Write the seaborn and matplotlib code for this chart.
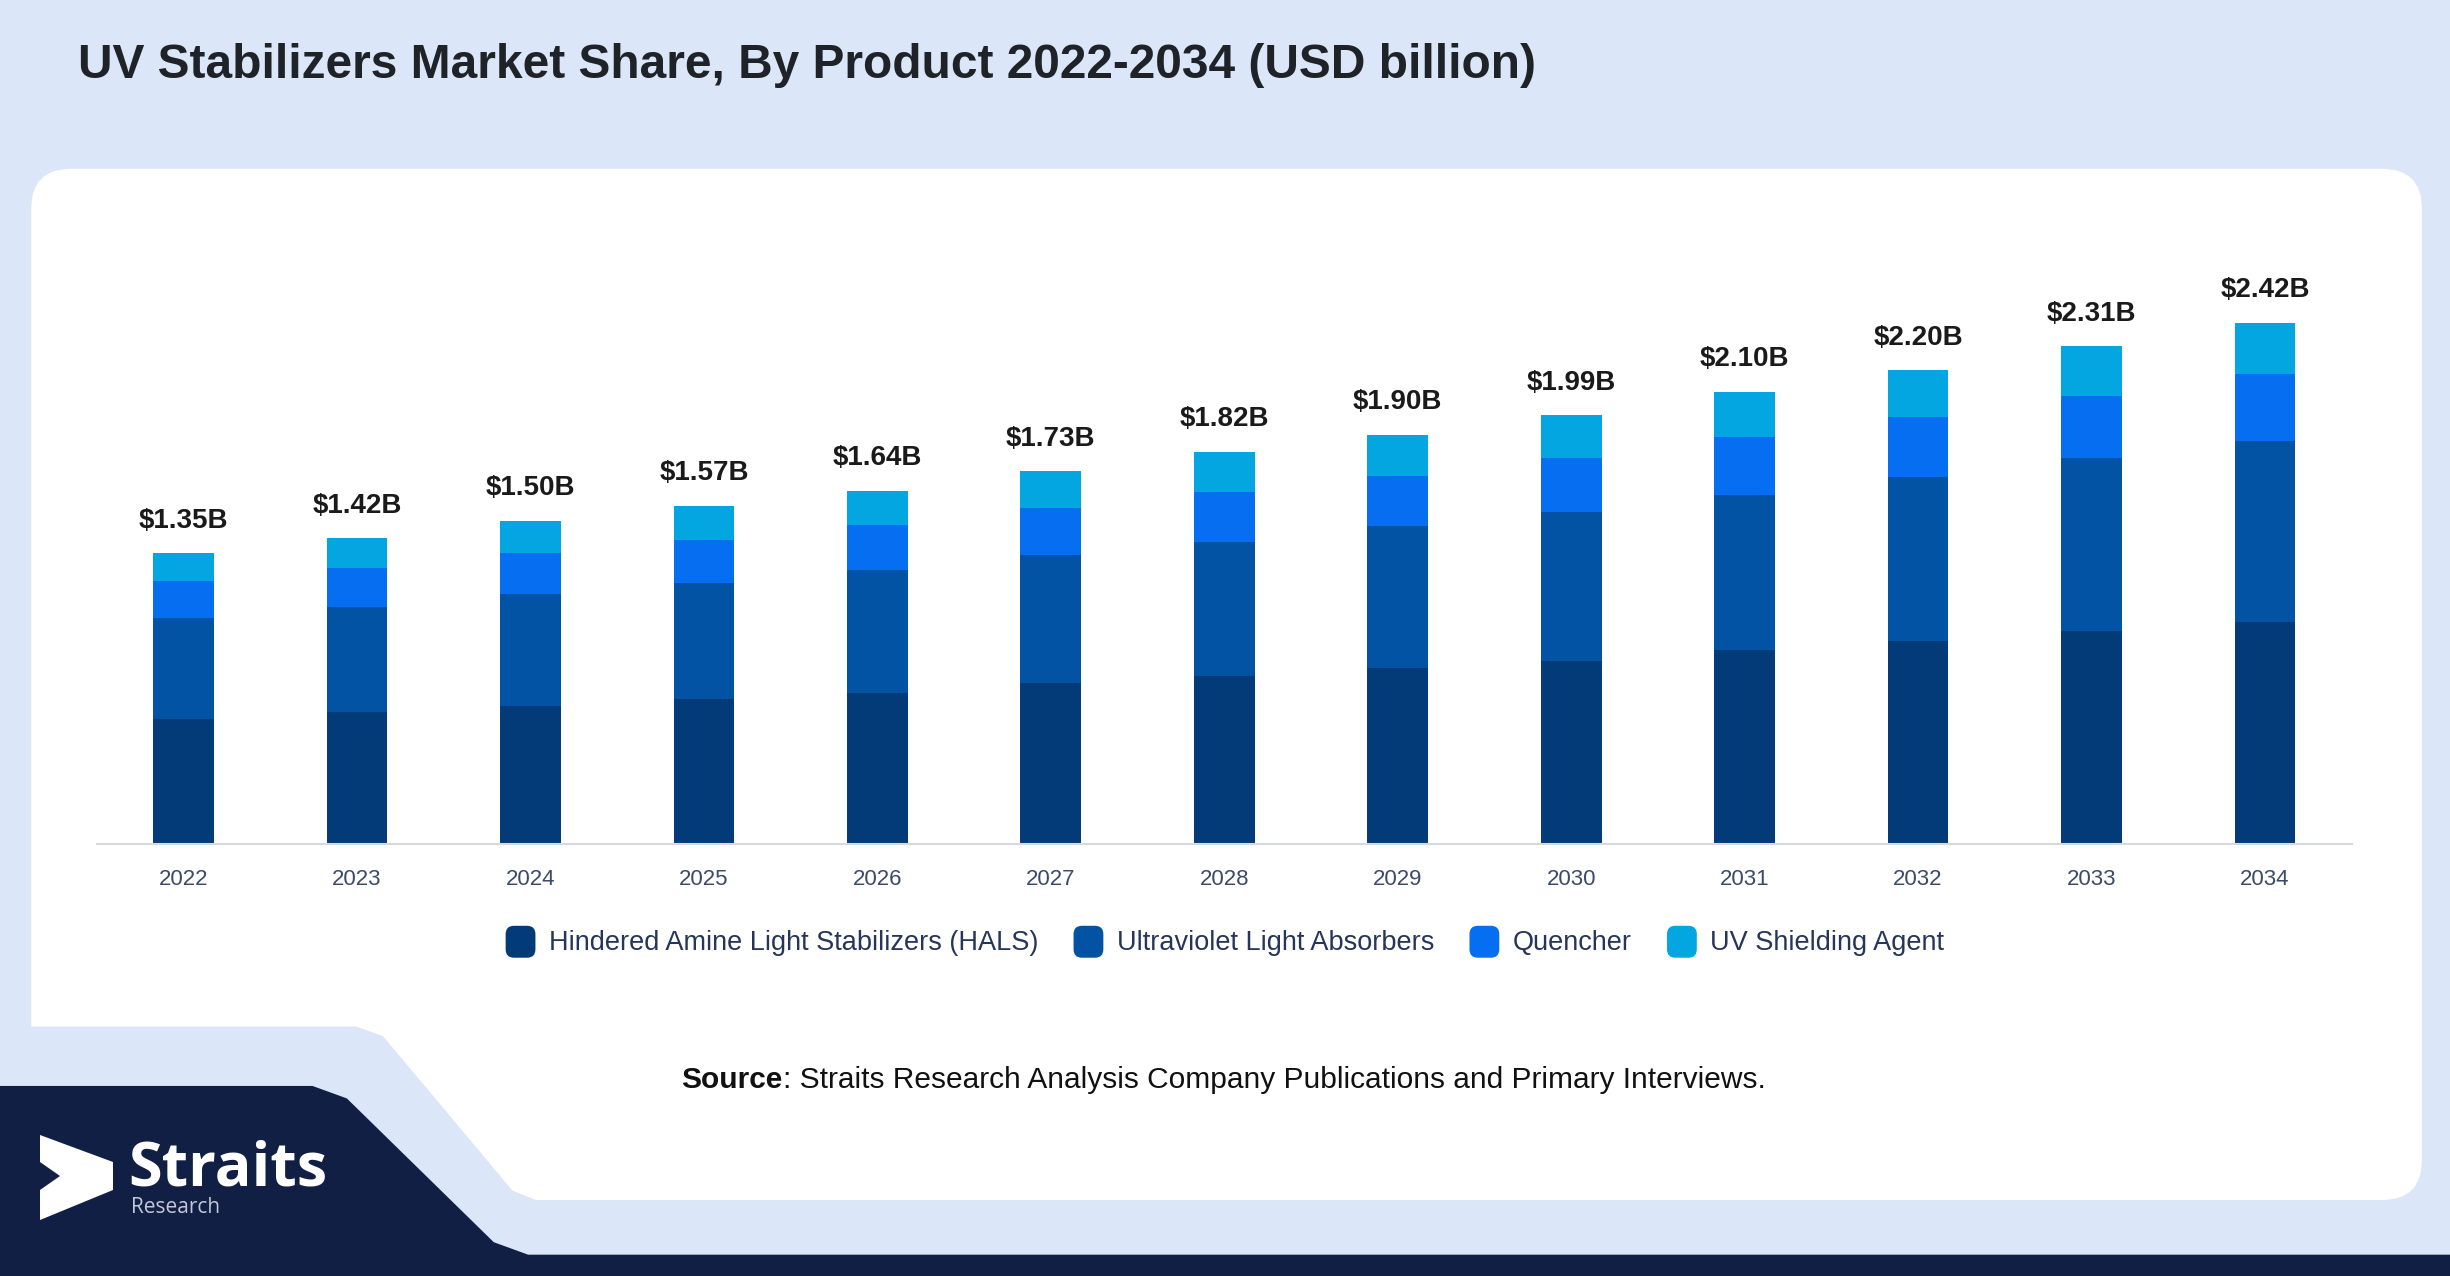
import matplotlib
matplotlib.use('Agg')
import matplotlib.pyplot as plt
from matplotlib.patches import FancyBboxPatch, Polygon, Patch
from matplotlib.legend_handler import HandlerPatch
import seaborn as sns
import pandas as pd

# data (USD billion)
years = [2022, 2023, 2024, 2025, 2026, 2027, 2028, 2029, 2030, 2031, 2032, 2033, 2034]
hals = [0.58, 0.61, 0.64, 0.67, 0.70, 0.745, 0.78, 0.815, 0.85, 0.90, 0.94, 0.99, 1.03]
uv_absorbers = [0.47, 0.49, 0.52, 0.54, 0.57, 0.595, 0.62, 0.66, 0.69, 0.72, 0.765, 0.80, 0.84]
quencher = [0.17, 0.18, 0.19, 0.20, 0.21, 0.22, 0.235, 0.235, 0.25, 0.27, 0.275, 0.29, 0.31]
shielding = [0.13, 0.14, 0.15, 0.16, 0.16, 0.17, 0.185, 0.19, 0.20, 0.21, 0.22, 0.23, 0.24]

series_names = ['Hindered Amine Light Stabilizers (HALS)', 'Ultraviolet Light Absorbers',
                'Quencher', 'UV Shielding Agent']
series_colors = ['#033b78', '#0353a5', '#066ef0', '#04a6e1']

title = 'UV Stabilizers Market Share, By Product 2022-2034 (USD billion)'
source_rest = ': Straits Research Analysis Company Publications and Primary Interviews.'

df = pd.DataFrame({'Year': years, series_names[0]: hals, series_names[1]: uv_absorbers,
                   series_names[2]: quencher, series_names[3]: shielding})
# cumulative sums for stacking (draw tallest first, then overlay)
cum = df[series_names].cumsum(axis=1)
cum['Year'] = df['Year']
totals = cum[series_names[-1]].tolist()

sns.set_theme(style='white')
plt.rcParams['font.family'] = ['Liberation Sans', 'DejaVu Sans']

S = 1.5625  # layout was measured on a 1568px wide copy
BG = '#dbe6f8'


class RoundedHandler(HandlerPatch):
    # rounded square legend keys
    def create_artists(self, legend, orig_handle, xdescent, ydescent, width, height, fontsize, trans):
        p = FancyBboxPatch((-xdescent, -ydescent - height * 0.1), width, height * 1.15,
                           boxstyle=f'round,pad=0,rounding_size={height * 0.3}',
                           facecolor=orig_handle.get_facecolor(), edgecolor='none',
                           transform=trans)
        return [p]


fig = plt.figure(figsize=(24.5, 12.76), dpi=100)
fig.patch.set_facecolor(BG)

bg = fig.add_axes([0, 0, 1, 1])
bg.set_xlim(0, 2450)
bg.set_ylim(1276, 0)
bg.axis('off')


def pts(lst):
    return [(x * S, y * S) for x, y in lst]


# white card
bg.add_patch(FancyBboxPatch((20 * S, 108 * S), 1530 * S, 660 * S,
                            boxstyle='round,pad=0,rounding_size=40',
                            facecolor='white', edgecolor='none'))
# cut-out at the bottom left
bg.add_patch(Polygon(pts([(0, 657), (228, 657), (245, 663), (328, 762), (348, 770), (0, 770)]),
                     closed=True, facecolor=BG, edgecolor='none'))
# navy footer
bg.add_patch(Polygon(pts([(0, 695), (200, 695), (222, 703), (316, 795), (338, 803),
                          (1568, 803), (1568, 817), (0, 817)]),
                     closed=True, facecolor='#121f45', edgecolor='none'))
# logo
bg.add_patch(Polygon([(40, 1135), (113, 1162), (113, 1190), (40, 1220), (40, 1190),
                      (60, 1176), (40, 1162)],
                     closed=True, facecolor='white', edgecolor='none'))
bg.text(128, 1185, 'Straits', fontsize=44, color='white', fontweight='bold',
        family=['Open Sans', 'DejaVu Sans'], ha='left', va='baseline')
bg.text(131, 1213, 'Research', fontsize=15, color='#c3c9d6',
        family=['Open Sans', 'DejaVu Sans'], ha='left', va='baseline')

bg.text(50 * S, 42 * S, title, fontsize=34.5, fontweight='bold', color='#1f2328',
        ha='left', va='center')
bg.text(501 * S, 691 * S, 'Source', fontsize=21.5, fontweight='bold', color='#111111',
        ha='right', va='center')
bg.text(501 * S, 691 * S, source_rest, fontsize=21.5, color='#111111', ha='left', va='center')

# chart
ax = fig.add_axes([0.0395, 0.3388, 0.9204, 0.4724])
ax.patch.set_alpha(0)
for name, color in zip(reversed(series_names), reversed(series_colors)):
    sns.barplot(data=cum, x='Year', y=name, color=color, width=0.35, saturation=1,
                errorbar=None, linewidth=0, ax=ax)

ax.bar_label(ax.containers[0], labels=[f'${t:.2f}B' for t in totals], padding=14,
             fontsize=20, fontweight='bold', color='#1a1a1a')

ax.set_xlim(-0.5, 12.5)
ax.set_ylim(0, 2.8)
ax.set_xlabel('')
ax.set_ylabel('')
ax.set_yticks([])
sns.despine(ax=ax, left=True)
ax.spines['bottom'].set_color('#d6d9de')
ax.spines['bottom'].set_linewidth(1.5)
ax.tick_params(axis='x', labelsize=16, colors='#3b4a68', length=0, pad=18)

handles = [Patch(facecolor=c, edgecolor='none', label=n) for n, c in zip(series_names, series_colors)]
fig.legend(handles=handles, loc='center', bbox_to_anchor=(0.5, 0.262), ncol=4, frameon=False,
           fontsize=19.5, handlelength=1.1, handleheight=1.2, handletextpad=0.5,
           columnspacing=1.3, labelcolor='#26355a',
           handler_map={Patch: RoundedHandler()})

fig.savefig('out.png', dpi=100, facecolor=fig.get_facecolor())
